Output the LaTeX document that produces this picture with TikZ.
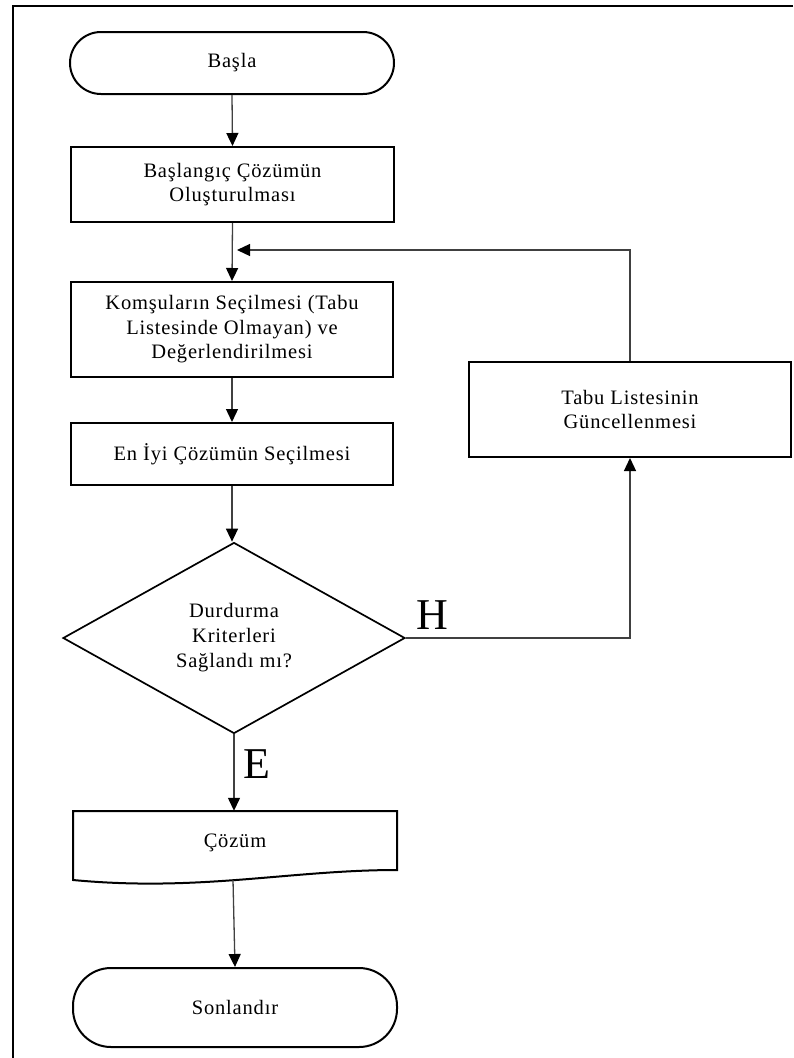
\documentclass[tikz,border=0pt]{standalone}
\usepackage{fontspec}
\setmainfont{Liberation Serif}
\newfontfamily\boxfont{Liberation Serif}[LetterSpace=4]
\usetikzlibrary{shapes.geometric,arrows.meta}
\tikzset{
  box/.style={draw, line width=2pt, rectangle, minimum width=322pt, align=center,
    font=\boxfont\fontsize{20.5}{24.5}\selectfont, inner sep=0pt},
  term/.style={box, rounded corners=31pt},
  conn/.style={line width=1.3pt, draw=black!75, -{Triangle[length=13pt,width=12pt,color=black]}},
  lbl/.style={font=\fontsize{44}{44}\selectfont, inner sep=0pt, anchor=base west},
  shapeline/.style={line width=2pt}
}
\begin{document}
\begin{tikzpicture}[x=1pt,y=-1pt]
\useasboundingbox (0,0) rectangle (793,1058);
\draw[line width=2.2pt] (793,6) -- (13,6) -- (13,1058);

\node[term, minimum width=324pt, minimum height=62pt] (start) at (232,63) {Başla};
\node[box, minimum width=323pt, minimum height=75pt] (init) at (232.5,184.5) {Başlangıç Çözümün\\Oluşturulması};
\node[box, minimum height=95pt] (neigh) at (232,329.5) {Komşuların Seçilmesi (Tabu\\Listesinde Olmayan) ve\\Değerlendirilmesi};
\node[box, minimum height=62pt] (best) at (232,454) {En İyi Çözümün Seçilmesi};
\node[diamond, draw, line width=1.7pt, minimum width=342pt, minimum height=191pt, inner sep=0pt,
  align=center, font=\boxfont\fontsize{20.5}{25}\selectfont] (dec) at (234,638) {Durdurma\\Kriterleri\\Sağlandı mı?};
\node[box, minimum height=95pt] (tabu) at (630,409.5) {Tabu Listesinin\\Güncellenmesi};
\node[font=\boxfont\fontsize{20.5}{24.5}\selectfont, minimum width=324pt, minimum height=64pt, inner sep=0pt] (doc) at (235,843) {Çözüm};
\draw[shapeline] (73,811) -- (397,811) -- (397,870) .. controls (290,870) and (200,892) .. (73,880) -- cycle;
\coordinate (docb) at (233,880);
\node[term, minimum width=324pt, minimum height=79pt, rounded corners=38pt] (end) at (235,1007.5) {Sonlandır};

\coordinate (loopend) at (237,250);

\draw[conn] (start.south) -- (init.north);
\draw[conn] (init.south) -- (neigh.north);
\draw[conn] (tabu.north) |- (loopend);
\draw[conn] (neigh.south) -- (best.north);
\draw[conn] (best.south) -- (best.south |- dec.north);
\draw[conn] (dec.east) -| (tabu.south);
\draw[conn] (dec.south) -- (dec.south |- doc.north);
\draw[conn] (docb) -- (end.north);

\node[lbl] (H) at (416,629) {H};
\node[lbl] (E) at (243,778) {E};
\end{tikzpicture}
\end{document}
